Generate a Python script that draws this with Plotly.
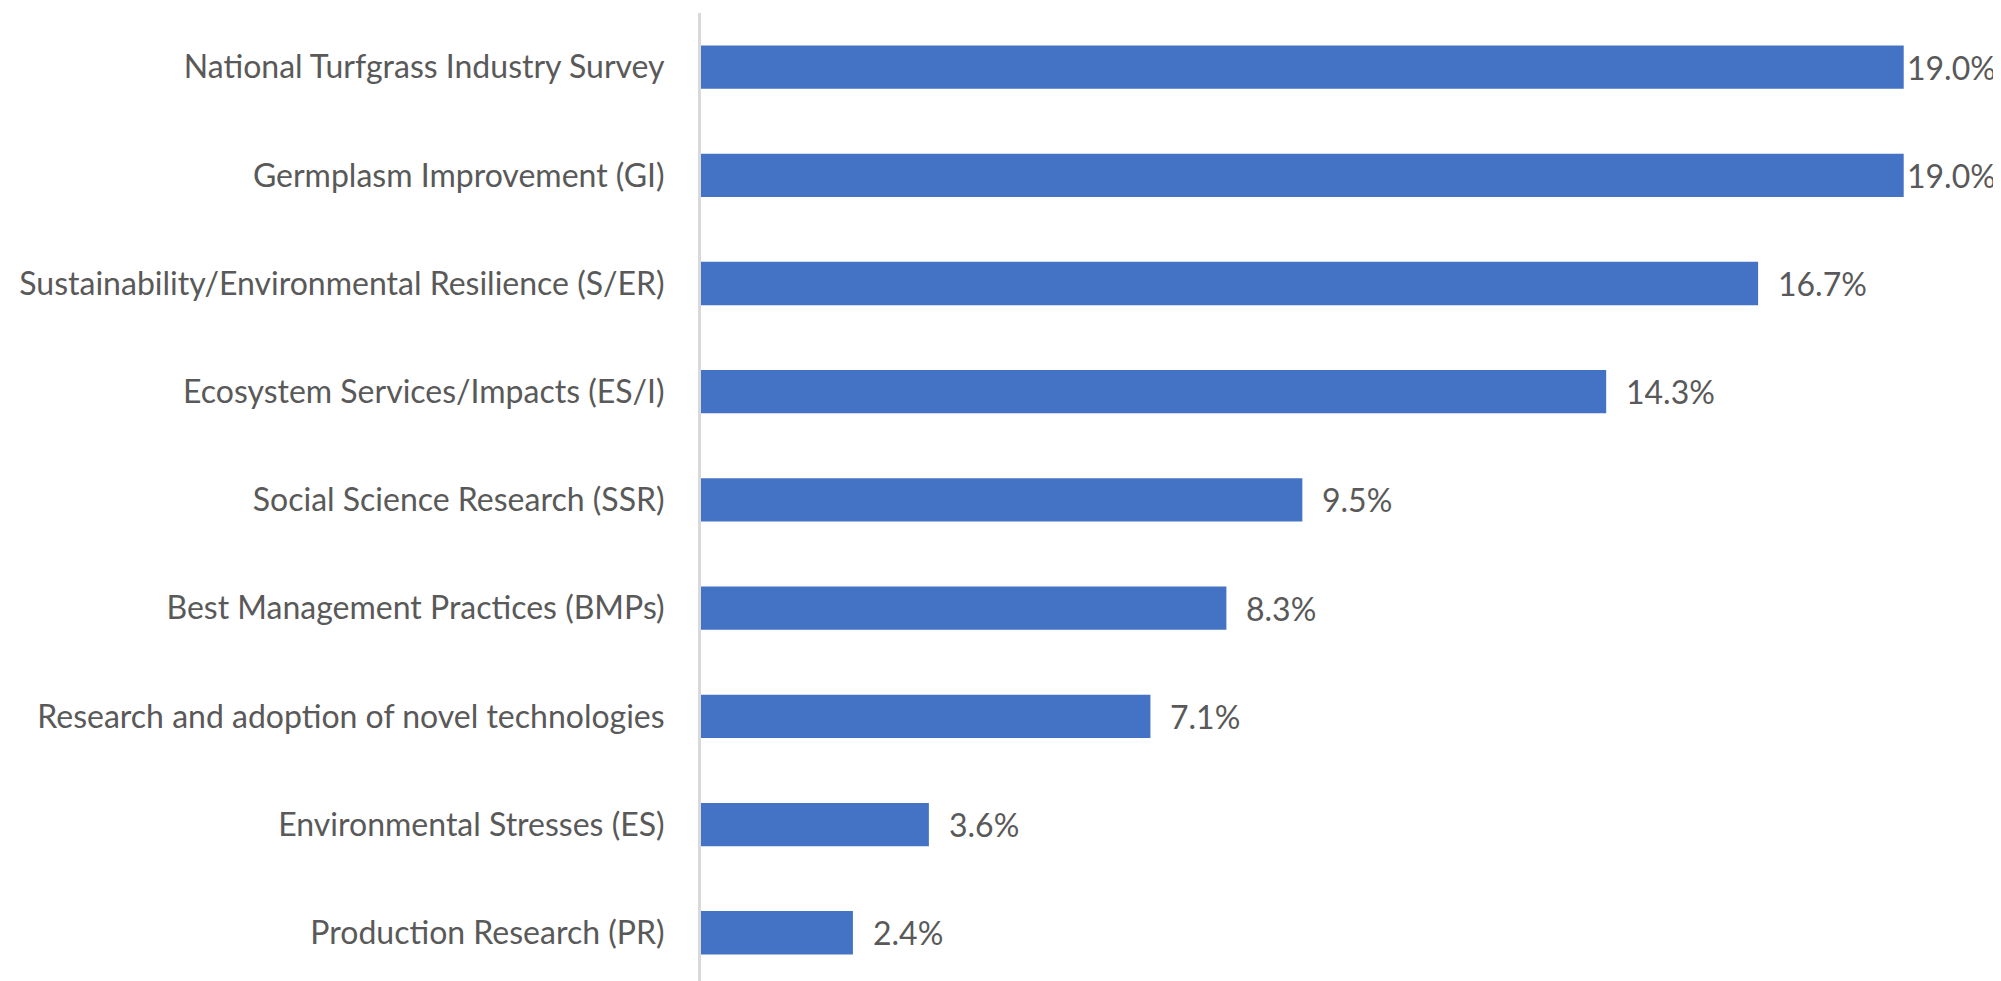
import plotly.graph_objects as go

categories = [
    "National Turfgrass Industry Survey",
    "Germplasm Improvement (GI)",
    "Sustainability/Environmental Resilience (S/ER)",
    "Ecosystem Services/Impacts (ES/I)",
    "Social Science Research (SSR)",
    "Best Management Practices (BMPs)",
    "Research and adoption of novel technologies",
    "Environmental Stresses (ES)",
    "Production Research (PR)",
]
values = [19.0, 19.0, 16.7, 14.3, 9.5, 8.3, 7.1, 3.6, 2.4]
labels = [f"{v:.1f}%" for v in values]

FONT = "Lato"
TXT = "#595959"

fig = go.Figure(go.Bar(
    x=values, y=categories, orientation="h",
    marker=dict(color="#4472C4", line=dict(width=0)),
    width=0.4, hoverinfo="skip",
))

vmax = max(values)
for c, v, t in zip(categories, values, labels):
    fig.add_annotation(x=v, y=c, text=t, showarrow=False, xanchor="left",
                       yanchor="middle", xshift=1 if v >= vmax else 18,
                       font=dict(family=FONT, size=32, color=TXT))

fig.update_layout(
    width=1993, height=973,
    margin=dict(l=693, r=34, t=5, b=0, pad=0),
    paper_bgcolor="white", plot_bgcolor="white",
    showlegend=False,
    font=dict(family=FONT, size=32, color=TXT),
    xaxis=dict(range=[0, 20], visible=False, showgrid=False, zeroline=False),
    yaxis=dict(categoryorder="array", categoryarray=categories,
               range=[8.446, -0.5], showgrid=False, zeroline=False,
               showline=True, linecolor="#D9D9D9", linewidth=3,
               ticks="", ticklabelstandoff=27,
               tickfont=dict(family=FONT, size=32, color=TXT)),
)

fig.write_html("out.html")
